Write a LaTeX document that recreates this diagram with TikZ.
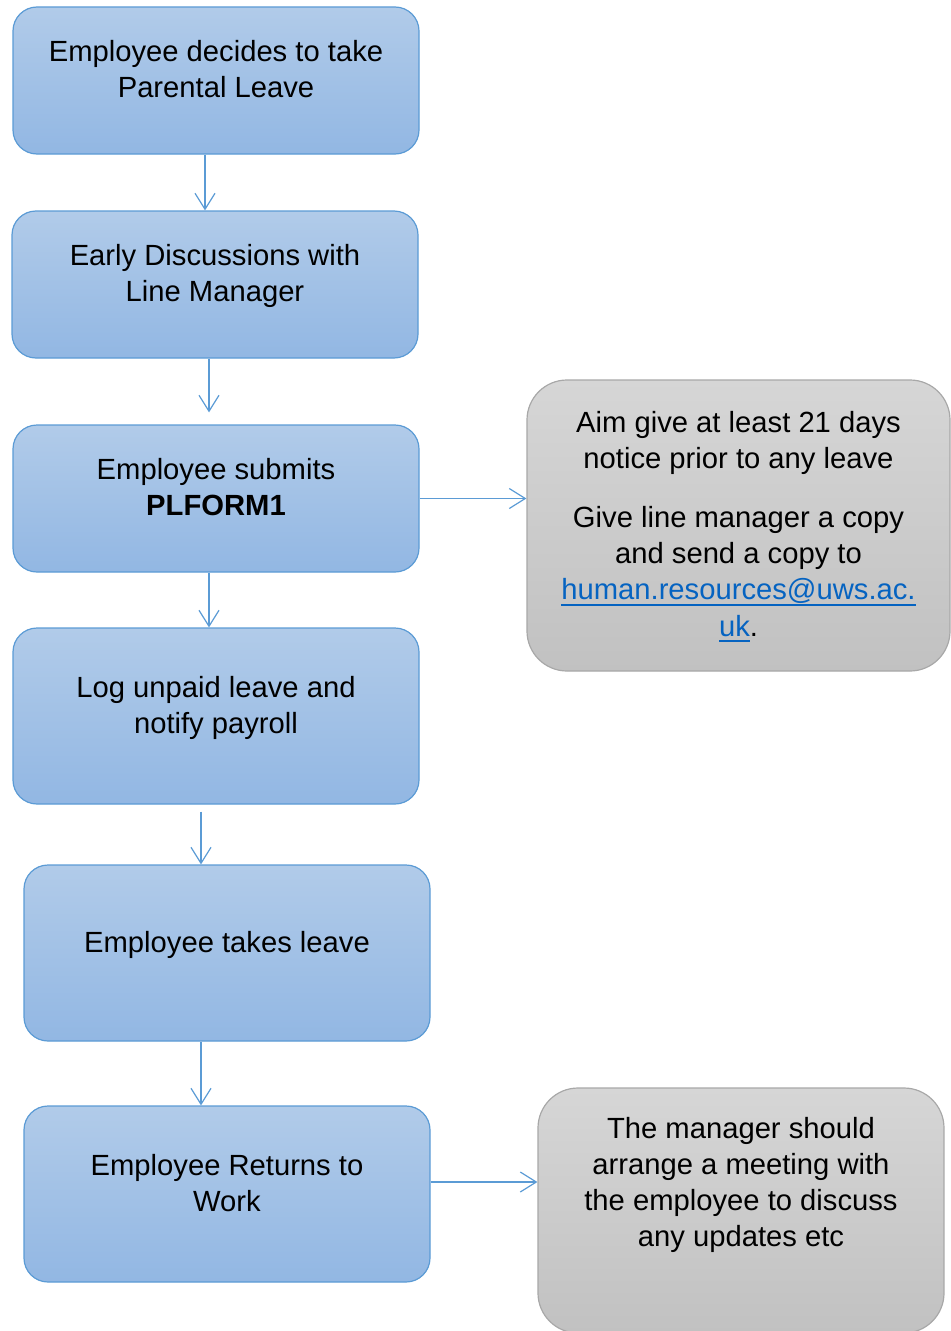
\documentclass[tikz,border=0pt]{standalone}
\usepackage{fontspec}
\setmainfont{Liberation Sans}
\usepackage{tikz}
\usetikzlibrary{arrows.meta,positioning}
\definecolor{boxblue}{HTML}{5B9BD5}
\definecolor{bluetop}{HTML}{B1CBE9}
\definecolor{bluebot}{HTML}{92B7E3}
\definecolor{greyline}{HTML}{A8A8A8}
\definecolor{greytop}{HTML}{D6D6D6}
\definecolor{greybot}{HTML}{C1C1C1}
\definecolor{maillink}{HTML}{0563C1}
\newcommand\mailul[1]{\setbox0\hbox{#1}\leavevmode\rlap{\vrule height -3pt depth 4.5pt width \wd0}\box0}

\begin{document}
\begin{tikzpicture}[x=0.75pt,y=-0.75pt,>={Straight Barb[length=12pt,width=15pt]},line join=bevel,
  stepbox/.style={draw=boxblue,line width=0.9pt,rounded corners=18pt,top color=bluetop,bottom color=bluebot,minimum width=304.5pt,inner sep=0pt},
  notebox/.style={draw=greyline,line width=0.9pt,rounded corners=30pt,top color=greytop,bottom color=greybot,inner sep=0pt},
  txt/.style={align=center,font=\fontsize{21.9}{27.2}\selectfont,inner sep=0pt},
  flow/.style={->,draw=boxblue,line width=0.9pt}]
\useasboundingbox (0,0) rectangle (950,1331);
%%
\node (decide) at (216,80.5) [stepbox,minimum height=110.25pt] {};
  \node (talk) at (215,284.5) [stepbox,minimum height=110.25pt] {};
  \node (submit) at (216,498.5) [stepbox,minimum height=110.25pt] {};
  \node (payroll) at (216,716) [stepbox,minimum height=132pt] {};
  \node (leave) at (227,953) [stepbox,minimum height=132pt] {};
  \node (return) at (227,1194) [stepbox,minimum height=132pt] {};
  \node (notice) at (738.5,525.5) [notebox,minimum width=317.25pt,minimum height=218.25pt] {};
  \node (meet) at (741,1210.5) [notebox,minimum width=304.5pt,minimum height=183.75pt] {};
%
\node (decide-t) at (216,69) [txt] {Employee decides to take\\Parental Leave};
  \node (talk-t) at (215,276) [txt] {Early Discussions with\\Line Manager};
  \node (submit-t) at (216,487) [txt] {Employee submits\\\textbf{PLFORM1}};
  \node (payroll-t) at (216,708) [txt] {Log unpaid leave and\\notify payroll};
  \node (leave-t) at (227,945) [txt] {Employee takes leave};
  \node (return-t) at (227,1183) [txt] {Employee Returns to\\Work};
  \node (notice-t) at (738.5,526.5) [txt] {Aim give at least 21 days\\notice prior to any leave\\[17pt]
    Give line manager a copy\\and send a copy to\\
    \textcolor{maillink}{\mailul{human.resources@uws.ac.}}\\\textcolor{maillink}{\mailul{uk}}.};
  \node (meet-t) at (741,1185) [txt] {The manager should\\arrange a meeting with\\the employee to discuss\\any updates etc};
%
\coordinate (side) at ([yshift=9pt]return.east);
  \draw [flow] ([xshift=-8.25pt]decide.south) -- ([xshift=-7.5pt]talk.north);
  \draw [flow,shorten >=9pt] ([xshift=-4.5pt]talk.south) -- ([xshift=-5.25pt]submit.north);
  \draw [flow] ([xshift=-5.25pt]submit.south) -- ([xshift=-5.25pt]payroll.north);
  \draw [flow,shorten <=5.25pt] ([xshift=-11.25pt]payroll.south) -- ([xshift=-19.5pt]leave.north);
  \draw [flow] ([xshift=-19.5pt]leave.south) -- ([xshift=-19.5pt]return.north);
  \draw [flow] (submit.east) -- (submit.east -| notice.west);
  \draw [flow] (side) -- (side -| meet.west);
%
\end{tikzpicture}
\end{document}
